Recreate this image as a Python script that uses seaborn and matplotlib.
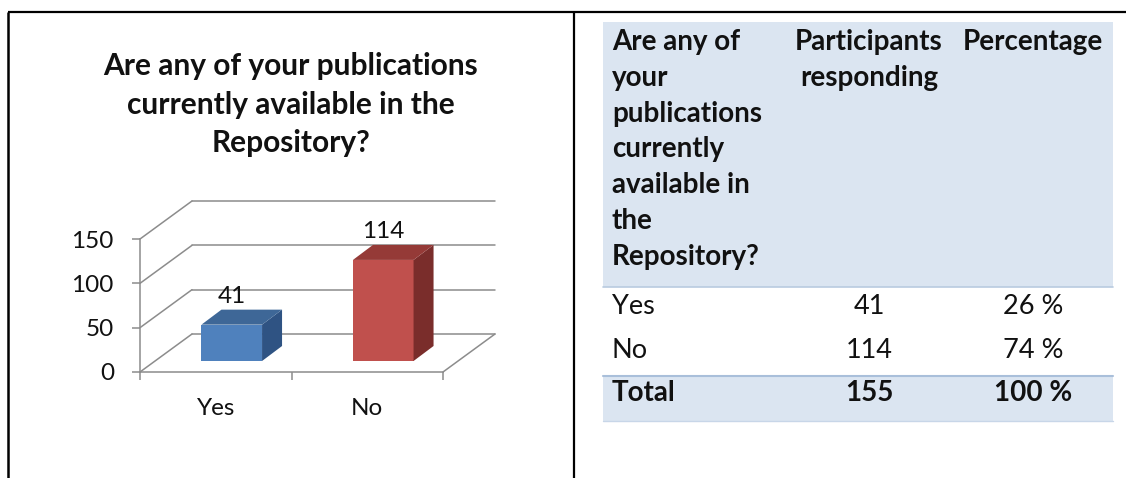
import matplotlib
matplotlib.use("Agg")
import matplotlib.pyplot as plt
import numpy as np
import pandas as pd
import seaborn as sns
from matplotlib.patches import Polygon, Rectangle
from matplotlib.transforms import ScaledTranslation

# ---------------- data ----------------
categories = ["Yes", "No"]
counts = [41, 114]
percents = [26, 74]
total_count = 155
total_percent = 100
yticks = [0, 50, 100, 150]
chart_title = ["Are any of your publications", "currently available in the", "Repository?"]
header_question = ["Are any of", "your", "publications", "currently", "available in", "the", "Repository?"]
header_count = ["Participants", "responding"]
header_percent = ["Percentage"]
total_label = "Total"

# ---------------- style ----------------
sns.set_theme(style="white")
plt.rcParams["font.family"] = ["Lato", "DejaVu Sans"]

W, H = 1129, 478
DPI = 100
fig = plt.figure(figsize=(W / DPI, H / DPI), dpi=DPI)
fig.patch.set_facecolor("white")

grid_c = "#8C8C8C"
txt_c = "#111111"
front_cols = ["#4F81BD", "#C0504D"]
top_cols = ["#3E6797", "#953A37"]
side_cols = ["#2F5383", "#7A2D2B"]

# background / layout axes in pixel coordinates
bg = fig.add_axes([0, 0, 1, 1], zorder=0)
bg.set_xlim(0, W)
bg.set_ylim(H, 0)
bg.axis("off")

# frame lines
bg.plot([8, 1126], [12, 12], color="black", lw=1.6, solid_capstyle="butt")
bg.plot([8, 8], [12, H], color="black", lw=1.8, solid_capstyle="butt")
bg.plot([574, 574], [12, H], color="black", lw=1.6, solid_capstyle="butt")

# chart title
for i, line in enumerate(chart_title):
    bg.text(291, 66 + i * 38.5, line, ha="center", va="center",
            fontsize=21.5, fontweight="bold", color=txt_c)

# ---------------- chart ----------------
ax = fig.add_axes([140 / W, 1 - 372 / H, 303 / W, 133 / H], zorder=2)
ax.patch.set_alpha(0)
df = pd.DataFrame({"answer": categories, "count": counts})
sns.barplot(data=df, x="answer", y="count", hue="answer", palette=front_cols,
            width=0.4, saturation=1, legend=False, ax=ax, zorder=4)
ax.set_xlim(-0.5, len(categories) - 0.5)
ax.set_ylim(yticks[0], yticks[-1])
ax.set_xlabel("")
ax.set_ylabel("")

p0 = ax.transData.transform((0, 0))
p1 = ax.transData.transform((1, 1))
sx, sy = p1[0] - p0[0], p1[1] - p0[1]

# depth parameters in pixels
back_dx, back_dy = 52 / sx, 38 / sy      # back wall offset (data units)
bar_tr = ax.transData + ScaledTranslation(16 / DPI, 11 / DPI, fig.dpi_scale_trans)
bd_x, bd_y = 20 / sx, 15 / sy           # bar depth (data units)

x0, x1 = ax.get_xlim()
lw_g = 1.1
for v in yticks:
    ax.plot([x0 + back_dx, x1 + back_dx], [v + back_dy, v + back_dy],
            color=grid_c, lw=lw_g, clip_on=False, zorder=1)
    ax.plot([x0, x0 + back_dx], [v, v + back_dy], color=grid_c, lw=lw_g,
            clip_on=False, zorder=1)
ax.plot([x1, x1 + back_dx], [0, back_dy], color=grid_c, lw=lw_g,
        clip_on=False, zorder=1)

for i, p in enumerate(ax.patches):
    x, w, h = p.get_x(), p.get_width(), p.get_height()
    p.set_transform(bar_tr)
    p.set_edgecolor("none")
    side = Polygon([(x + w, 0), (x + w + bd_x, bd_y), (x + w + bd_x, h + bd_y), (x + w, h)],
                   closed=True, facecolor=side_cols[i], edgecolor="none",
                   transform=bar_tr, clip_on=False, zorder=4)
    top = Polygon([(x, h), (x + w, h), (x + w + bd_x, h + bd_y), (x + bd_x, h + bd_y)],
                  closed=True, facecolor=top_cols[i], edgecolor="none",
                  transform=bar_tr, clip_on=False, zorder=4)
    ax.add_patch(side)
    ax.add_patch(top)
    ax.annotate(f"{counts[i]}", xy=(x + w / 2, h), xycoords=bar_tr,
                xytext=(0, 28), textcoords="offset pixels", ha="center",
                va="center", fontsize=17.5, color=txt_c, annotation_clip=False)

for s in ["top", "right"]:
    ax.spines[s].set_visible(False)
for s in ["left", "bottom"]:
    ax.spines[s].set_color(grid_c)
    ax.spines[s].set_linewidth(lw_g)
    ax.spines[s].set_zorder(1)

ax.set_yticks(yticks)
ax.set_yticklabels([str(t) for t in yticks])
ax.tick_params(axis="y", length=5.8, width=lw_g, color=grid_c, pad=13,
               labelsize=17.5, labelcolor=txt_c, left=True)
ax.set_xticks(range(len(categories)))
ax.set_xticklabels(categories)
ax.set_xticks(np.arange(len(categories) + 1) - 0.5, minor=True)
ax.tick_params(axis="x", which="major", length=0, pad=19, labelsize=17.5,
               labelcolor=txt_c)
ax.tick_params(axis="x", which="minor", length=5.8, width=lw_g, color=grid_c,
               bottom=True)
ax.grid(False)

# ---------------- table ----------------
tbl_l, tbl_r = 603, 1113
hdr_fill = "#DBE5F1"
bg.add_patch(Rectangle((tbl_l, 22), tbl_r - tbl_l, 265, facecolor=hdr_fill,
                       edgecolor="none"))
bg.plot([tbl_l, tbl_r], [287, 287], color="#B9CBE0", lw=1.2)
bg.add_patch(Rectangle((tbl_l, 376), tbl_r - tbl_l, 45, facecolor=hdr_fill,
                       edgecolor="none"))
bg.plot([tbl_l, tbl_r], [376, 376], color="#A9BFDA", lw=1.5)
bg.plot([tbl_l, tbl_r], [421, 421], color="#C8D6E8", lw=1.0)

col1_x, col2_x, col3_x = 612, 869, 1033
fs_b = 20
fs_r = 19.5
for i, line in enumerate(header_question):
    bg.text(col1_x, 42 + i * 35.8, line, ha="left", va="center",
            fontsize=fs_b, fontweight="bold", color=txt_c)
for i, line in enumerate(header_count):
    bg.text(col2_x, 42 + i * 35.8, line, ha="center", va="center",
            fontsize=fs_b, fontweight="bold", color=txt_c)
for i, line in enumerate(header_percent):
    bg.text(col3_x, 42 + i * 35.8, line, ha="center", va="center",
            fontsize=fs_b, fontweight="bold", color=txt_c)

row_y = [307, 350]
for cat, c, pc, y in zip(categories, counts, percents, row_y):
    bg.text(col1_x, y, cat, ha="left", va="center", fontsize=fs_r, color=txt_c)
    bg.text(col2_x, y, f"{c}", ha="center", va="center", fontsize=fs_r, color=txt_c)
    bg.text(col3_x, y, f"{pc} %", ha="center", va="center", fontsize=fs_r, color=txt_c)
bg.text(col1_x, 393, total_label, ha="left", va="center", fontsize=fs_b,
        fontweight="bold", color=txt_c)
bg.text(col2_x, 393, f"{total_count}", ha="center", va="center", fontsize=fs_b,
        fontweight="bold", color=txt_c)
bg.text(col3_x, 393, f"{total_percent} %", ha="center", va="center", fontsize=fs_b,
        fontweight="bold", color=txt_c)

fig.savefig("out.png", dpi=DPI)
